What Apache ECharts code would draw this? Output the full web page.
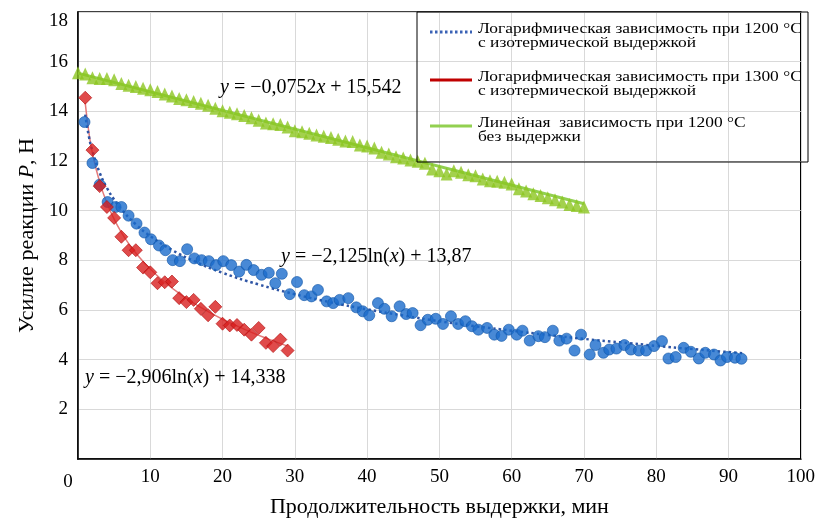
<!DOCTYPE html>
<html>
<head>
<meta charset="utf-8">
<script src="https://cdn.jsdelivr.net/npm/echarts@6/dist/echarts.min.js"></script>
<style>
html,body{margin:0;padding:0;background:#fff;}
#c{width:818px;height:523px;}
</style>
</head>
<body>
<div id="c"></div>
<script>
// ---- data ----
const xTicks = [0,10,20,30,40,50,60,70,80,90,100];
const yTicks = [0,2,4,6,8,10,12,14,16,18];

// 1200 °C with isothermal holding (blue circles)
const blueX = [0.9,2,3,4.1,5.2,6,7,8.1,9.2,10.1,11.2,12.1,13.1,14.1,15.1,16.1,17.1,18.1,19.1,20.1,21.2,22.3,23.3,24.3,25.4,26.4,27.3,28.2,29.3,30.3,31.3,32.3,33.2,34.4,35.3,36.2,37.4,38.5,39.4,40.3,41.5,42.4,43.4,44.5,45.4,46.3,47.4,48.4,49.5,50.5,51.6,52.6,53.6,54.5,55.4,56.6,57.6,58.6,59.6,60.7,61.5,62.5,63.7,64.6,65.7,66.6,67.6,68.7,69.6,70.8,71.6,72.7,73.5,74.5,75.6,76.5,77.6,78.6,79.7,80.8,81.7,82.7,83.8,84.8,85.9,86.8,88,88.9,89.8,90.9,91.8];
const blueY = [13.57,11.92,11.05,10.35,10.15,10.15,9.8,9.48,9.12,8.85,8.6,8.41,8.01,7.97,8.45,8.08,8.01,7.97,7.81,7.97,7.81,7.55,7.82,7.61,7.42,7.5,7.08,7.46,6.64,7.13,6.6,6.55,6.81,6.35,6.28,6.41,6.48,6.11,5.95,5.79,6.28,6.05,5.75,6.15,5.84,5.88,5.39,5.61,5.65,5.44,5.75,5.44,5.55,5.35,5.21,5.28,5.01,4.96,5.21,5.01,5.17,4.77,4.95,4.91,5.17,4.77,4.85,4.37,5.01,4.21,4.59,4.28,4.41,4.45,4.59,4.41,4.37,4.37,4.55,4.75,4.05,4.11,4.48,4.32,4.05,4.28,4.21,3.97,4.11,4.08,4.04];

// 1300 °C with isothermal holding (red diamonds)
const redX = [1,2,3,4,5,6,7,8,9,10,11,12,13,14,15,16,17,18,19,20,21,22,23,24,25,26,27,28,29];
const redY = [14.55,12.44,10.99,10.15,9.71,8.95,8.41,8.41,7.71,7.52,7.08,7.12,7.15,6.48,6.32,6.41,6.05,5.79,6.13,5.45,5.38,5.4,5.21,5.01,5.28,4.68,4.55,4.81,4.37];

// 1200 °C without holding (green triangles)
const greenX = [0,1,2,3,4,5,6,7,8,9,10,11,12,13,14,15,16,17,18,19,20,21,22,23,24,25,26,27,28,29,30,31,32,33,34,35,36,37,38,39,40,41,42,43,44,45,46,47,48,49,50,51,52,53,54,55,56,57,58,59,60,61,62,63,64,65,66,67,68,69,70];
const greenY = [15.55,15.5,15.35,15.32,15.32,15.27,15.12,15.05,15.0,14.93,14.87,14.8,14.7,14.62,14.52,14.47,14.4,14.33,14.25,14.12,14.02,13.96,13.9,13.83,13.74,13.64,13.53,13.5,13.47,13.37,13.22,13.18,13.12,13.05,13.0,12.95,12.88,12.81,12.79,12.65,12.61,12.52,12.35,12.28,12.17,12.12,12.04,11.99,11.91,11.68,11.61,11.48,11.61,11.55,11.45,11.41,11.28,11.21,11.19,11.15,11.08,10.88,10.79,10.68,10.61,10.52,10.44,10.35,10.25,10.21,10.15];

// trend lines
const blueTrendX = [1,1.5,2,3,4,5,6,8,10,13,16,20,25,30,35,40,45,50,55,60,65,70,75,80,85,92];
const blueTrendY = [13.87,13.0,12.4,11.53,10.92,10.45,10.06,9.45,8.98,8.42,7.98,7.5,7.03,6.64,6.31,6.03,5.78,5.55,5.35,5.17,5.0,4.84,4.7,4.56,4.43,4.26];
const redTrendX = [1,1.5,2,3,4,5,6,7,8,10,12,14,16,18,20,22,24,26,29];
const redTrendY = [14.34,13.16,12.32,11.15,10.31,9.66,9.13,8.68,8.3,7.65,7.12,6.67,6.28,5.94,5.63,5.36,5.1,4.87,4.55];
const greenTrendX = [0,70];
const greenTrendY = [15.54,10.28];

const legendLines = [
  ['Логарифмическая зависимость при 1200 °C','с изотермической выдержкой'],
  ['Логарифмическая зависимость при 1300 °C','с изотермической выдержкой'],
  ['Линейная  зависимость при 1200 °C','без выдержки']
];
const eqBlue = '{i|y} = −2,125ln({i|x}) + 13,87';
const eqRed = '{i|y} = −2,906ln({i|x}) + 14,338';
const eqGreen = '{i|y} = −0,0752{i|x} + 15,542';

const zip = (xs, ys) => xs.map((x, i) => [x, ys[i]]);
const FONT = 'Liberation Serif';

const chart = echarts.init(document.getElementById('c'), null, {renderer: 'canvas'});

const legendGraphics = [];
const sampleStyles = [
  {stroke: '#3a62b5', lineWidth: 3, lineDash: [2.5, 2.5]},
  {stroke: '#c00000', lineWidth: 3},
  {stroke: '#92d050', lineWidth: 3}
];
const rowTop = [22, 70, 116];
legendGraphics.push({type: 'rect', shape: {x: 417, y: 12, width: 391, height: 150}, style: {fill: 'none', stroke: '#000', lineWidth: 1}, z: 100});
legendLines.forEach((lines, i) => {
  legendGraphics.push({type: 'line', shape: {x1: 430, y1: rowTop[i] + 10, x2: 472, y2: rowTop[i] + 10}, style: sampleStyles[i], z: 100});
  legendGraphics.push({type: 'text', x: 478, y: rowTop[i], scaleX: 1.16, style: {text: lines.join('\n'), font: '15px "' + FONT + '"', fill: '#000', lineHeight: 14, verticalAlign: 'top'}, z: 100});
});
const eqStyle = (t) => ({text: t, font: '20px "' + FONT + '"', fill: '#000', verticalAlign: 'middle', rich: {i: {fontStyle: 'italic', fontSize: 20, fontFamily: FONT}}});
legendGraphics.push({type: 'text', x: 220, y: 88, style: eqStyle(eqGreen), z: 100});
legendGraphics.push({type: 'text', x: 281, y: 257, style: eqStyle(eqBlue), z: 100});
legendGraphics.push({type: 'text', x: 85, y: 378, style: eqStyle(eqRed), z: 100});

chart.setOption({
  animation: false,
  backgroundColor: '#fff',
  textStyle: {fontFamily: FONT},
  grid: {left: 78, right: 11, top: 12, bottom: 61, show: true, borderColor: '#000', borderWidth: 1.5, backgroundColor: 'transparent'},
  xAxis: {
    type: 'value', min: xTicks[0], max: xTicks[xTicks.length - 1], interval: 10,
    name: 'Продолжительность выдержки, мин', nameLocation: 'middle', nameGap: 35,
    nameTextStyle: {fontFamily: FONT, fontSize: 22, color: '#000'},
    axisLine: {lineStyle: {color: '#000', width: 1.5}},
    axisTick: {show: false},
    axisLabel: {fontFamily: FONT, fontSize: 19, color: '#000', margin: 8,
      formatter: v => v === 0 ? '{z|0}' : String(v),
      rich: {z: {fontFamily: FONT, fontSize: 19, padding: [5, 20, 0, 0]}}},
    splitLine: {show: true, lineStyle: {color: '#d9d9d9', width: 1}}
  },
  yAxis: {
    type: 'value', min: yTicks[0], max: yTicks[yTicks.length - 1], interval: 2,
    name: 'Усилие реакции {i|P}, Н', nameLocation: 'middle', nameGap: 40, nameRotate: 90,
    nameTextStyle: {fontFamily: FONT, fontSize: 22, color: '#000', rich: {i: {fontStyle: 'italic', fontFamily: FONT, fontSize: 22}}},
    axisLine: {show: true, lineStyle: {color: '#000', width: 1.5}},
    axisTick: {show: false},
    axisLabel: {fontFamily: FONT, fontSize: 19, color: '#000', margin: 10,
      formatter: v => v === 0 ? '' : (v === 18 ? '{t|18}' : String(v)),
      rich: {t: {fontFamily: FONT, fontSize: 19, padding: [18, 0, 0, 0]}}},
    splitLine: {show: true, lineStyle: {color: '#d9d9d9', width: 1}}
  },
  series: [
    {type: 'line', data: zip(greenTrendX, greenTrendY), showSymbol: false, lineStyle: {color: '#92d050', width: 3}, z: 1, silent: true},
    {type: 'line', data: zip(redTrendX, redTrendY), showSymbol: false, smooth: true, lineStyle: {color: '#e37a7a', width: 1.5}, z: 1, silent: true},
    {type: 'line', data: zip(blueTrendX, blueTrendY), showSymbol: false, smooth: true, lineStyle: {color: '#2f55a5', width: 2.5, type: [2.5, 3]}, z: 1, silent: true},
    {type: 'scatter', data: zip(greenX, greenY), symbol: 'triangle', symbolSize: [12, 13], itemStyle: {color: '#8cc520'}, z: 3},
    {type: 'scatter', data: zip(blueX, blueY), symbol: 'circle', symbolSize: 11, itemStyle: {color: '#1a6ccc', borderColor: '#1558a8', borderWidth: 0.8}, z: 4},
    {type: 'scatter', data: zip(redX, redY), symbol: 'diamond', symbolSize: 13, itemStyle: {color: '#d81e1e', borderColor: '#b01010', borderWidth: 0.8}, z: 5}
  ],
  graphic: legendGraphics
});
</script>
</body>
</html>
